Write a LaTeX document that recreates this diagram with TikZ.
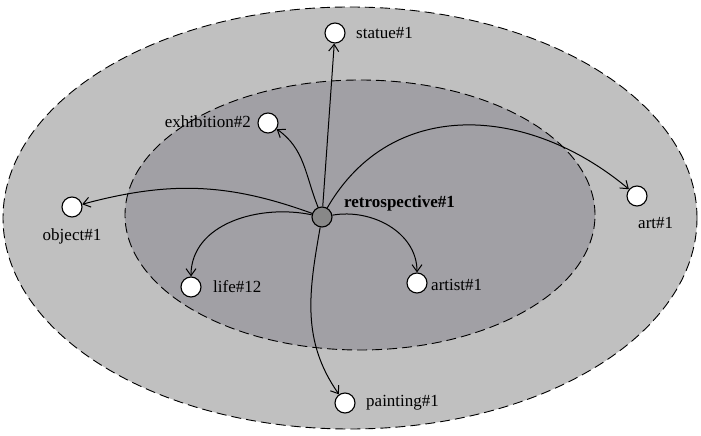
\documentclass[tikz,border=0pt]{standalone}
\usepackage{fontspec}
\setmainfont{Liberation Serif}
\usetikzlibrary{arrows.meta}
\definecolor{outergray}{RGB}{192,192,192}
\definecolor{innergray}{RGB}{161,160,165}
\definecolor{centergray}{RGB}{136,136,136}
\begin{document}
\begin{tikzpicture}[x=1pt,y=1pt,
  dashline/.style={dash pattern=on 10pt off 5pt, line width=0.9pt},
  concept/.style={circle, draw, fill=white, line width=1.1pt, minimum size=20pt, inner sep=0pt},
  centre/.style={concept, fill=centergray},
  lbl/.style={inner sep=0pt, font=\fontsize{17}{20}\selectfont},
  rel/.style={line width=1pt, -{Straight Barb[length=7pt,width=10pt,line width=1pt]}}
]
\useasboundingbox (0,0) rectangle (701,436);
\draw[dashline, fill=outergray] (350,218) ellipse [x radius=347, y radius=211];
\draw[dashline, fill=innergray] (360,221) ellipse [x radius=235, y radius=135];

\node[centre] (retro) at (322,219) {};
\node[concept] (statue) at (335,403) {};
\node[concept] (exhib) at (268,313) {};
\node[concept] (object) at (72,229) {};
\node[concept] (art) at (637,240) {};
\node[concept] (life) at (191,149) {};
\node[concept] (artist) at (417,153) {};
\node[concept] (painting) at (345,33) {};

\node[lbl, anchor=west] (tstatue) at (356,403) {statue\#1};
\node[lbl, anchor=east] (texhib) at (251,314) {exhibition\#2};
\node[lbl, anchor=west, font=\fontsize{17}{20}\selectfont\bfseries] (tretro) at (344,233) {retrospective\#1};
\node[lbl] (tobject) at (72,200) {object\#1};
\node[lbl, anchor=west] (tart) at (638,213) {art\#1};
\node[lbl, anchor=west] (tlife) at (213,149) {life\#12};
\node[lbl, anchor=west] (tartist) at (431,151) {artist\#1};
\node[lbl, anchor=west] (tpainting) at (366,33) {painting\#1};

\draw[rel] (retro) -- (statue);
\draw[rel] (retro) to[out=112, in=-35] (exhib);
\draw[rel] (retro) to[out=160, in=15] (object);
\draw[rel] (retro) to[out=60, in=140, looseness=1.1] (art);
\draw[rel] (retro) to[out=168, in=90] (life);
\draw[rel] (retro) to[out=10, in=90] (artist);
\draw[rel] (retro) to[out=-100, in=125] (painting);
\end{tikzpicture}
\end{document}
